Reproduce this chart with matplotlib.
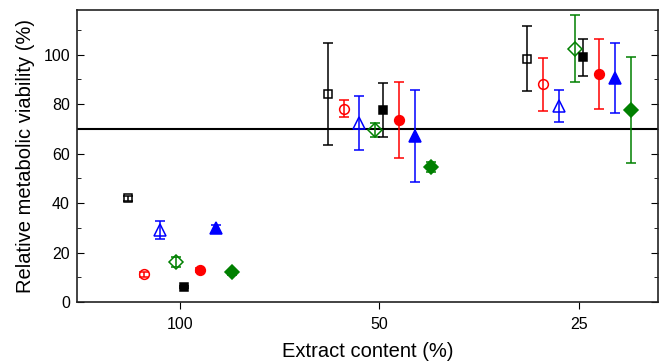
import numpy as np
import matplotlib
matplotlib.use('Agg')
import matplotlib.pyplot as plt
from matplotlib.ticker import MultipleLocator

plt.rcParams['font.family'] = ['Liberation Sans', 'DejaVu Sans']

groups = ['100', '50', '25']
offsets = [-0.26, -0.18, -0.10, -0.02, 0.02, 0.10, 0.18, 0.26]

# one entry per series: values at 100, 50, 25 % and errors
vals = [
    [42.0, 84.1, 98.4],   # open square
    [11.2, 78.1, 88.1],   # open circle
    [29.1, 72.3, 79.1],   # open triangle
    [16.3, 69.6, 102.4],  # open diamond
    [6.1, 77.5, 99.0],    # filled square
    [13.0, 73.7, 92.2],   # filled circle
    [29.8, 67.2, 90.6],   # filled triangle
    [12.0, 54.4, 77.6],   # filled diamond
]
errs = [
    [1.0, 20.7, 13.2],
    [1.0, 3.4, 10.7],
    [3.8, 10.8, 6.5],
    [2.0, 2.7, 13.5],
    [0.5, 10.9, 7.5],
    [0.8, 15.4, 14.2],
    [1.5, 18.5, 14.1],
    [1.0, 2.0, 21.3],
]
colors = ['black', 'red', 'blue', 'green', 'black', 'red', 'blue', 'green']
markers = ['s', 'o', '^', 'D', 's', 'o', '^', 'D']
filled = [False, False, False, False, True, True, True, True]
sizes = [6, 7, 8, 7, 6, 7, 8, 7]

fig = plt.figure(figsize=(6.69, 3.61), dpi=100)
ax = fig.add_axes([0.115, 0.1634, 0.8686, 0.8086])

x = np.arange(1, len(groups) + 1)
for i in range(len(vals)):
    c = colors[i]
    ax.errorbar(x + offsets[i], vals[i], yerr=errs[i], fmt=markers[i], color=c,
                ecolor=c, elinewidth=1.1, capsize=3.5, capthick=1.1,
                markersize=sizes[i], markeredgewidth=1.1,
                markerfacecolor=c if filled[i] else 'none', markeredgecolor=c,
                zorder=3)

ax.axhline(70, color='black', lw=1.5, zorder=2)

ax.set_xlim(0.484, 3.396)
ax.set_ylim(0, 118)
ax.set_xticks(x)
ax.set_xticklabels(groups)
ax.yaxis.set_major_locator(MultipleLocator(20))
ax.yaxis.set_minor_locator(MultipleLocator(10))
ax.tick_params(axis='y', which='both', direction='in', right=True, labelsize=11.5, pad=5)
ax.tick_params(axis='y', which='major', length=5)
ax.tick_params(axis='y', which='minor', length=3)
ax.tick_params(axis='x', direction='out', length=5, labelsize=11.5, pad=6)
for s in ax.spines.values():
    s.set_linewidth(1.2)
    s.set_color('#222222')

ax.set_xlabel('Extract content (%)', fontsize=14.5)
ax.set_ylabel('Relative metabolic viability (%)', fontsize=14.5)
ax.xaxis.set_label_coords(0.5, -0.171, transform=ax.transAxes)
ax.yaxis.set_label_coords(-0.088, 0.5, transform=ax.transAxes)
ax.xaxis.label.set_va('center')
ax.yaxis.label.set_va('center')

fig.savefig('out.png', dpi=100)
